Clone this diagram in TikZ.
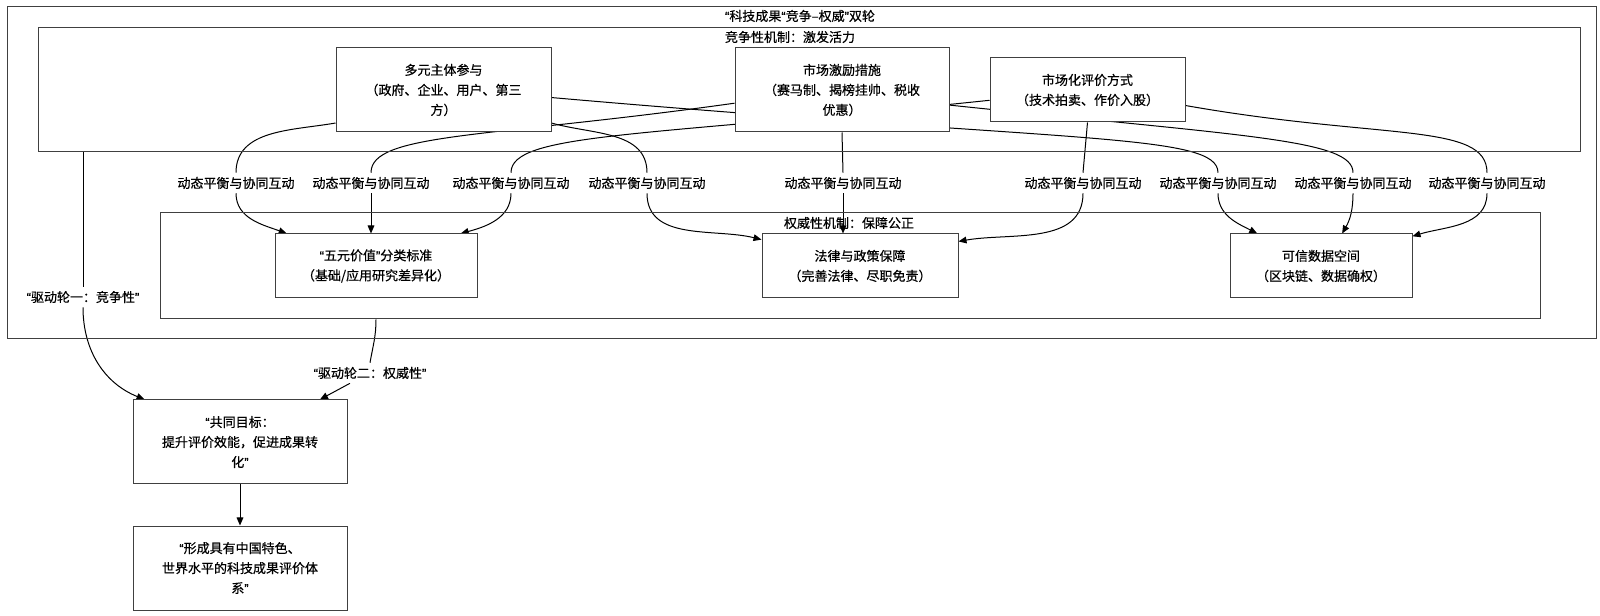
\documentclass[tikz,border=0pt]{standalone}
\usepackage{fontspec}
\setmainfont{Noto Sans CJK SC}[FakeBold=0.5]
\newfontfamily\myqf{Liberation Sans}[FakeBold=0.5]
\newcommand\myoq{{\myqf “}}
\newcommand\mycq{{\myqf ”}}
\usetikzlibrary{arrows.meta,calc}
\pgfdeclarelayer{background}
\pgfsetlayers{background,main}
\begin{document}
\begin{tikzpicture}[x=0.75pt,y=-0.75pt,
  font=\fontsize{9.75}{15}\selectfont,
  box/.style={draw=black!75, fill=white, line width=0.75pt, align=center, inner sep=0pt},
  cluster/.style={draw=black!75, line width=0.75pt, inner sep=0pt},
  elabel/.style={fill=white, inner xsep=2pt, inner ysep=3pt},
  edge/.style={draw=black, line width=0.75pt},
  arr/.style={edge, -{Triangle[length=6pt,width=5pt]}},
]
\useasboundingbox (0,0) rectangle (1600,616);
% clusters
\node[cluster, minimum width=1191.75pt, minimum height=249pt] (outer) at (801.5,173) {};
\node[cluster, minimum width=1156.5pt, minimum height=93pt] (comp) at (809,90) {};
\node[cluster, minimum width=1035pt, minimum height=79.5pt] (auth) at (850,266) {};
\node (title) at (800,16) {\myoq 科技成果\myoq 竞争–权威\mycq 双轮};
\node (complab) at (790,37) {竞争性机制：激发活力};
\node (authlab) at (849,223) {权威性机制：保障公正};
% nodes
\node[box, minimum width=161.25pt, minimum height=63pt] (A) at (443.5,90) {多元主体参与\\（政府、企业、用户、第三\\方）};
\node[box, minimum width=160.5pt, minimum height=63pt] (B) at (842,90) {市场激励措施\\（赛马制、揭榜挂帅、税收\\优惠）};
\node[box, minimum width=146.25pt, minimum height=48pt] (C) at (1087.5,90) {市场化评价方式\\（技术拍卖、作价入股）};
\node[box, minimum width=151.5pt, minimum height=48pt] (X) at (376,266) {\myoq 五元价值\mycq 分类标准\\（基础/应用研究差异化）};
\node[box, minimum width=147pt, minimum height=48pt] (Y) at (860,266) {法律与政策保障\\（完善法律、尽职免责）};
\node[box, minimum width=136.5pt, minimum height=48pt] (Z) at (1321,266) {可信数据空间\\（区块链、数据确权）};
\node[box, minimum width=160.5pt, minimum height=63pt] (G) at (240,442) {\myoq 共同目标：\\提升评价效能，促进成果转\\化\mycq};
\node[box, minimum width=160.5pt, minimum height=63pt] (H) at (240,568) {\myoq 形成具有中国特色、\\世界水平的科技成果评价体\\系\mycq};
% edge labels
\node[elabel] (l1) at (236,183) {动态平衡与协同互动};
\node[elabel] (l2) at (371,183) {动态平衡与协同互动};
\node[elabel] (l3) at (511,183) {动态平衡与协同互动};
\node[elabel] (l4) at (647,183) {动态平衡与协同互动};
\node[elabel] (l5) at (843,183) {动态平衡与协同互动};
\node[elabel] (l6) at (1083,183) {动态平衡与协同互动};
\node[elabel] (l7) at (1218,183) {动态平衡与协同互动};
\node[elabel] (l8) at (1353,183) {动态平衡与协同互动};
\node[elabel] (l9) at (1487,183) {动态平衡与协同互动};
\node[elabel] (d1) at (83,297) {\myoq 驱动轮一：竞争性\mycq};
\node[elabel] (d2) at (370,373) {\myoq 驱动轮二：权威性\mycq};
% edges
\begin{pgfonlayer}{background}
\draw[edge] (A.197) to[out=190,in=90] (l1.north);
\draw[arr] (l1.south) to[out=-90,in=160] (X.160);
\draw[edge] (B.187) to[out=188,in=90,out distance=187pt,in distance=30pt] (l2.north);
\draw[arr] (l2.south) -- (l2.south |- X.north);
\draw[edge] (C.186) to[out=186,in=90,out distance=262pt,in distance=30pt] (l3.north);
\draw[arr] (l3.south) to[out=-90,in=15] (X.21);
\draw[edge] (A.-17) to[out=-16,in=90] (l4.north);
\draw[arr] (l4.south) to[out=-90,in=166] (Y.165);
\draw[edge] (B.south) -- (l5.north);
\draw[arr] (l5.south) -- (l5.south |- Y.north);
\draw[edge] (C.south) -- (l6.north);
\draw[arr] (l6.south) to[out=-90,in=10] (Y.14);
\draw[edge] (A.-4) to[out=-5,in=90,out distance=390pt,in distance=30pt] (l7.north);
\draw[arr] (l7.south) to[out=-90,in=153] (Z.153);
\draw[edge] (B.-8) to[out=-6,in=90,out distance=225pt,in distance=25pt] (l8.north);
\draw[arr] (l8.south) to[out=-90,in=60] (Z.57);
\draw[edge] (C.-9) to[out=-10,in=90,out distance=150pt,in distance=38pt] (l9.north);
\draw[arr] (l9.south) to[out=-90,in=17] (Z.18);
\draw[edge] (comp.south -| d1) -- (d1.north);
\draw[arr] (d1.south) to[out=-90,in=158] (G.156);
\draw[edge] (auth.south -| X.south) to[out=-90,in=80] (d2.north);
\draw[arr] ([xshift=-15pt]d2.south) -- (G.28);
\draw[arr] (G) -- (H);
\end{pgfonlayer}
\end{tikzpicture}
\end{document}
